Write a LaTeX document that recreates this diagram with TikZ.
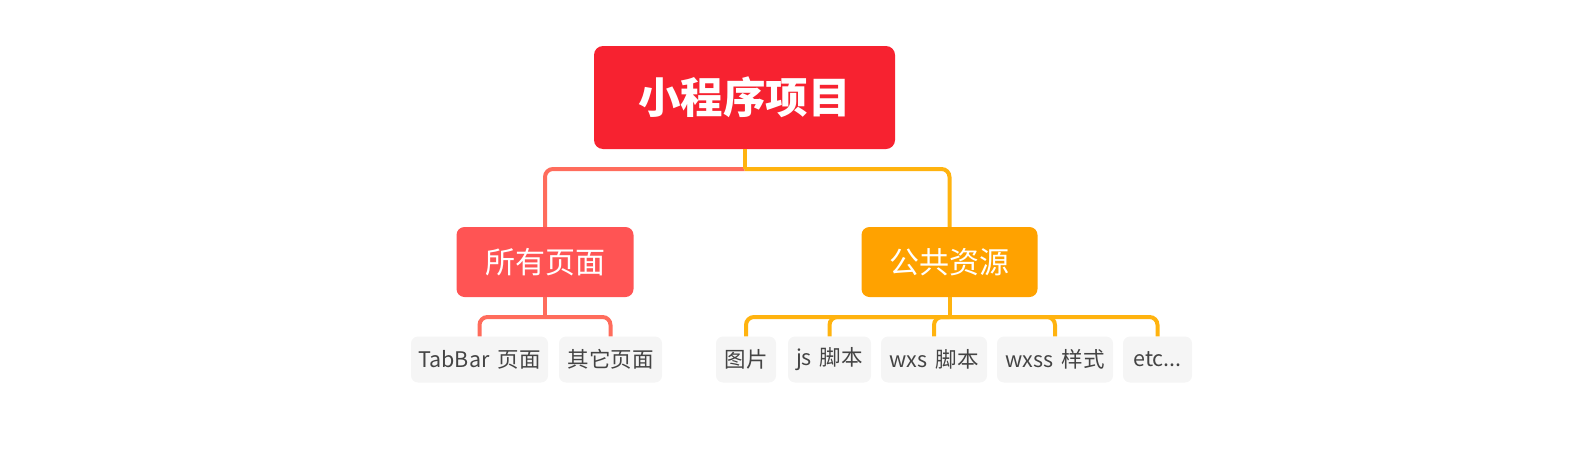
\documentclass[tikz,border=0pt]{standalone}
\usepackage{fontspec}
\setmainfont{Noto Sans CJK SC}
\begin{document}
\begin{tikzpicture}[x=1pt,y=-1pt,
  rootbox/.style={fill=rootred,draw=none,rounded corners=9pt,text=white,font=\fontsize{42.5}{46}\selectfont\bfseries,inner sep=0pt},
  midbox/.style={draw=none,rounded corners=8pt,text=white,font=\fontsize{30}{34}\selectfont,inner sep=0pt,minimum height=70pt},
  leafbox/.style={fill=leafgray,draw=none,rounded corners=7pt,text=leaftext,font=\fontsize{21.5}{25}\selectfont,inner sep=0pt,minimum height=46pt},
  lline/.style={draw=lcol,line width=4pt,rounded corners=8pt},
  rline/.style={draw=rcol,line width=4pt,rounded corners=8pt}
]
\definecolor{rootred}{HTML}{F72230}
\definecolor{p1red}{HTML}{FF5454}
\definecolor{p2org}{HTML}{FFA200}
\definecolor{lcol}{HTML}{FF6C5C}
\definecolor{rcol}{HTML}{FFB30F}
\definecolor{leafgray}{HTML}{F5F5F5}
\definecolor{leaftext}{HTML}{444444}
\useasboundingbox (0,0) rectangle (1575,469);

\node[rootbox,minimum width=301pt,minimum height=103pt] (root) at (744.5,97.5) {小程序项目};
\node[midbox,fill=p1red,minimum width=177pt] (p1) at (545,262) {所有页面};
\node[midbox,fill=p2org,minimum width=176pt] (p2) at (949.5,262) {公共资源};

\node[leafbox,minimum width=137pt] (l1) at (479.5,359.5) {TabBar\hspace{0.15em} 页面};
\node[leafbox,minimum width=103pt] (l2) at (610.5,359.5) {其它页面};
\node[leafbox,minimum width=60pt] (l3) at (746,359.5) {图片};
\node[leafbox,minimum width=83pt] (l4) at (829.5,359.5) {js\hspace{0.15em} 脚本};
\node[leafbox,minimum width=106pt] (l5) at (934,359.5) {wxs\hspace{0.15em} 脚本};
\node[leafbox,minimum width=116pt] (l6) at (1055,359.5) {wxss\hspace{0.15em} 样式};
\node[leafbox,minimum width=69pt] (l7) at (1157.5,359.5) {etc...};

\coordinate (j0) at (744.5,169);
\coordinate (j1) at (545,317);
\coordinate (j2) at (949.5,317);

\draw[lline] (j0) -| (p1.north);
\draw[rline] (j0) -| (p2.north);
\draw[rline] (root.south) -- (j0);

\draw[lline] (p1.south) -- (j1);
\draw[lline] (j1) -| (l1.north);
\draw[lline] (j1) -| (l2.north);

\draw[rline] (p2.south) -- (j2);
\foreach \n in {l3,l4,l5,l6,l7} \draw[rline] (j2) -| (\n.north);
\end{tikzpicture}
\end{document}
